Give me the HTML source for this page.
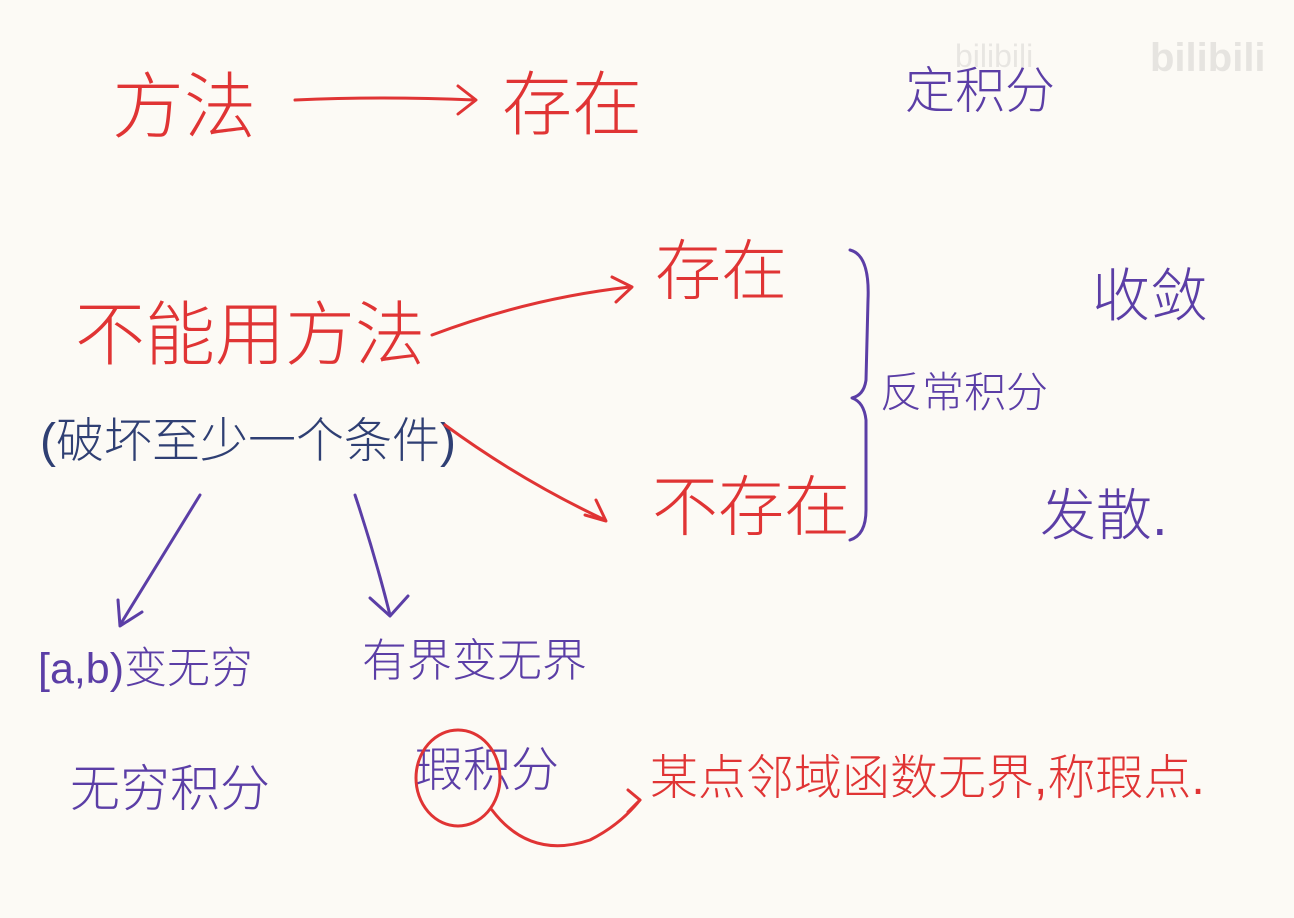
<!DOCTYPE html>
<html><head><meta charset="utf-8"><style>
html,body{margin:0;padding:0;}
body{width:1294px;height:918px;background:#fcfaf5;position:relative;overflow:hidden;font-family:"Liberation Sans","Noto Sans CJK SC",sans-serif;}
.t{position:absolute;white-space:nowrap;line-height:1;font-weight:300;}
.r{color:#e03434;}
.p{color:#5b3ea6;}
.b{color:#2f3f73;}
svg{position:absolute;left:0;top:0;}
</style></head><body>
<div class="t r" style="left:112px;top:72px;font-size:72px;">方法</div>
<div class="t r" style="left:502px;top:70px;font-size:70px;">存在</div>
<div class="t p" style="left:905px;top:66px;font-size:50px;">定积分</div>
<div class="t" style="left:955px;top:40px;font-size:32px;color:#e8e6e2;">bilibili</div>
<div class="t" style="left:1150px;top:38px;font-size:40px;color:#e6e4e0;font-weight:bold;">bilibili</div>
<div class="t r" style="left:655px;top:238px;font-size:66px;">存在</div>
<div class="t r" style="left:75px;top:300px;font-size:70px;">不能用方法</div>
<div class="t b" style="left:40px;top:418px;font-size:48px;">(破坏至少一个条件)</div>
<div class="t r" style="left:652px;top:474px;font-size:66px;">不存在</div>
<div class="t p" style="left:880px;top:372px;font-size:42px;">反常积分</div>
<div class="t p" style="left:1092px;top:268px;font-size:58px;">收敛</div>
<div class="t p" style="left:1040px;top:488px;font-size:56px;">发散.</div>
<div class="t p" style="left:38px;top:648px;font-size:43px;">[a,b)变无穷</div>
<div class="t p" style="left:362px;top:638px;font-size:45px;">有界变无界</div>
<div class="t p" style="left:70px;top:764px;font-size:50px;">无穷积分</div>
<div class="t p" style="left:415px;top:747px;font-size:48px;">瑕积分</div>
<div class="t r" style="left:650px;top:755px;font-size:48px;">某点邻域函数无界,称瑕点.</div>
<svg width="1294" height="918" fill="none" stroke-linecap="round" stroke-linejoin="round">
<g stroke="#e03434" stroke-width="3">
<path d="M295 100 Q380 96 475 100"/><path d="M458 86 L476 100 L458 114"/>
<path d="M432 335 Q530 298 630 287"/><path d="M612 277 L632 287 L616 302"/>
<path d="M445 425 Q520 480 605 520"/><path d="M585 515 L606 521 L596 500"/>
<ellipse cx="458" cy="778" rx="42" ry="48"/>
<path d="M492 810 Q530 860 590 840 Q620 825 640 800"/><path d="M628 812 L640 800 L628 790"/>
</g>
<g stroke="#5b3ea6" stroke-width="3">
<path d="M850 250 Q870 255 868 300 L866 380 Q864 395 852 398 Q864 402 866 420 L866 510 Q866 535 850 540"/>
<path d="M200 495 Q160 560 120 625"/><path d="M118 600 L120 626 L142 612"/>
<path d="M355 495 Q375 555 390 615"/><path d="M370 598 L390 616 L408 596"/>
</g>
</svg>
</body></html>
